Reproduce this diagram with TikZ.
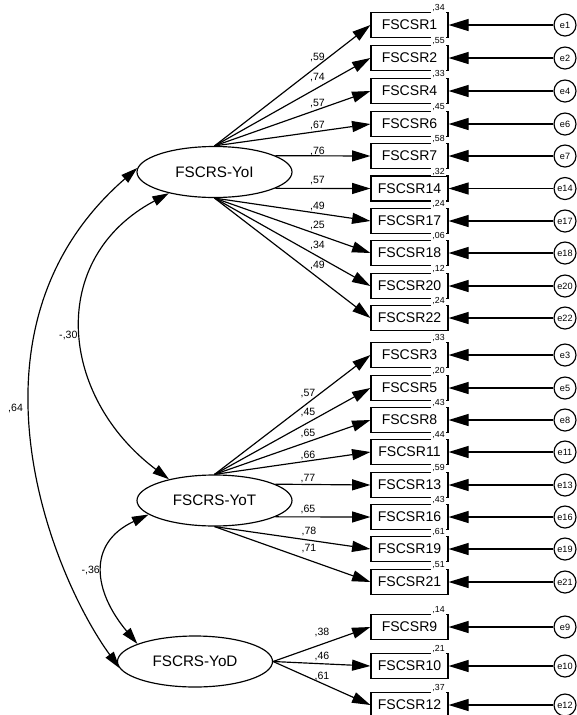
\documentclass[tikz,border=0pt]{standalone}
\usepackage{fontspec}
\setmainfont{Liberation Sans}
\usepackage{tikz}
\usetikzlibrary{shapes.geometric, arrows.meta, positioning, calc}
\tikzset{
  item/.style={rectangle, draw=black, fill=white, minimum width=2.31cm,
    minimum height=0.75cm, inner sep=0pt, line width=1pt,
    font=\fontsize{12}{13}\selectfont},
  factor/.style={ellipse, draw=black, minimum width=4.65cm,
    minimum height=1.53cm, inner sep=0pt, line width=1pt,
    font=\fontsize{13}{14}\selectfont},
  errnode/.style={circle, draw=black, minimum size=0.66cm, inner sep=0pt,
    line width=1pt, font=\fontsize{7.8}{8}\selectfont},
  load/.style={-{Triangle[length=0.55cm, width=0.33cm]}, line width=1pt},
  errarrow/.style={-{Triangle[length=0.6cm, width=0.36cm]}, line width=1pt},
  cov/.style={{Triangle[length=0.5cm, width=0.3cm]}-{Triangle[length=0.5cm, width=0.3cm]},
    line width=1pt},
  lbl/.style={inner sep=0.5pt, font=\fontsize{9}{10}\selectfont},
  rsq/.style={fill=white, inner sep=1pt, font=\fontsize{7.5}{8}\selectfont}
}

\begin{document}
\begin{tikzpicture}[x=0.03cm, y=-0.03cm]
  \useasboundingbox (0,0) rectangle (576,715);
  % latent factors
  \node[factor] (YoI) at (214.5,172) {FSCRS-YoI};
  \node[factor] (YoT) at (214.5,500.5) {FSCRS-YoT};
  \node[factor] (YoD) at (195,661.5) {FSCRS-YoD};

  % items with r2, error terms and loadings
  \foreach \n/\y/\rr/\src/\ld/\lx/\ly in {
      1/25/34/YoI.north/59/317.5/57,
      2/58/55/YoI.north/74/317.5/78,
      4/91/33/YoI.north/57/317.5/104,
      6/124/45/YoI.north/67/317.5/125,
      7/156/58/YoI.15/76/317.5/151,
      14/188.5/32/YoI.-15/57/317.5/181,
      17/221/24/YoI.south/49/317.5/206,
      18/253/06/YoI.south/25/317.5/225,
      20/286/12/YoI.south/34/317.5/245,
      22/318/24/YoI.south/49/317.5/265,
      3/355/33/YoT.north/57/308/394,
      5/388/20/YoT.north/45/308/413,
      8/420/43/YoT.north/65/308/433,
      11/452/44/YoT.north/66/308/455,
      13/485/59/YoT.15/77/308/479,
      16/517/43/YoT.-15/65/308/509,
      19/549/61/YoT.south/78/309/531,
      21/582/51/YoT.south/71/309/549,
      9/627/14/YoD.east/38/322/632,
      10/666/21/YoD.east/46/322/656,
      12/705/37/YoD.east/61/322/676}
  {
    \node[item] (b\n) at (409.5,\y) {FSCSR\n};
    \node[rsq, anchor=south] (r\n) at ([xshift=-0.3cm, yshift=-1pt]b\n.north east) {,\rr};
    \node[errnode] (e\n) at (565,\y) {e\n};
    \draw[errarrow] (e\n) -- (b\n);
    \draw[load] (\src) -- (b\n.west);
    \node[lbl] (l\n) at (\lx,\ly) {,\ld};
  }

  % factor covariances
  \draw[cov] (YoI.205) to[out=208, in=143, looseness=1.24]
    node[lbl, pos=0.52, left=3pt] (c1) {-,30} (YoT.155);
  \draw[cov] (YoI.177) to[out=221, in=126, out looseness=1.25, in looseness=0.6]
    node[lbl, pos=0.44, left=6pt] (c2) {,64} (YoD.185);
  \draw[cov] (YoT.192) to[out=205, in=130, looseness=1.35]
    node[lbl, pos=0.5, left=2pt] (c3) {-,36} (YoD.163);
\end{tikzpicture}
\end{document}
